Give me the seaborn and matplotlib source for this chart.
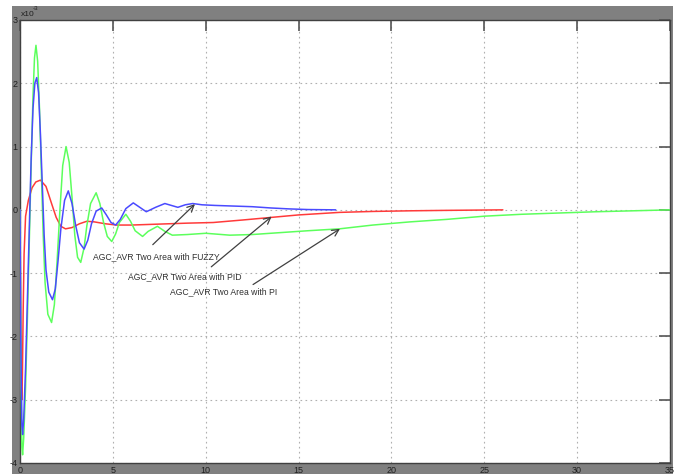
import matplotlib
matplotlib.use("Agg")
import matplotlib.pyplot as plt
from matplotlib.patches import Rectangle
import seaborn as sns
import pandas as pd

# Frequency deviation response (units of 1e-3) for the three controllers
t_pi = [0, 0.04, 0.1, 0.14, 0.2, 0.3, 0.4, 0.5, 0.6, 0.7, 0.78, 0.86, 0.95, 1.05,
        1.15, 1.25, 1.35, 1.5, 1.7, 1.85, 2.0, 2.15, 2.3, 2.48, 2.65, 2.8, 2.95,
        3.1, 3.27, 3.45, 3.6, 3.8, 4.1, 4.3, 4.5, 4.7, 4.94, 5.15, 5.35, 5.7,
        5.95, 6.2, 6.6, 6.9, 7.4, 7.8, 8.2, 9.0, 10, 11.3, 12.5, 14, 15.5, 17.2,
        19, 21, 23, 25, 27, 29, 31, 33, 35]
y_pi = [0, -2.0, -3.75, -3.87, -3.6, -2.8, -1.7, -0.5, 0.7, 1.8, 2.4, 2.6, 2.35, 1.6,
        0.6, -0.4, -1.15, -1.65, -1.78, -1.5, -0.8, 0.0, 0.7, 1.0, 0.75, 0.2, -0.4,
        -0.75, -0.83, -0.6, -0.25, 0.1, 0.27, 0.1, -0.2, -0.42, -0.5, -0.38, -0.2, -0.07,
        -0.18, -0.33, -0.42, -0.34, -0.26, -0.34, -0.4, -0.39, -0.37, -0.4, -0.39, -0.36, -0.33, -0.3,
        -0.24, -0.19, -0.15, -0.1, -0.07, -0.05, -0.03, -0.015, 0.0]

t_fuzzy = [0, 0.04, 0.1, 0.14, 0.2, 0.3, 0.4, 0.5, 0.6, 0.7, 0.8, 0.9, 1.0, 1.1,
           1.2, 1.3, 1.4, 1.55, 1.75, 1.9, 2.05, 2.2, 2.4, 2.6, 2.8, 3.0, 3.2,
           3.45, 3.65, 3.85, 4.1, 4.4, 4.65, 4.9, 5.15, 5.4, 5.7, 6.1, 6.45, 6.8,
           7.3, 7.8, 8.15, 8.5, 8.9, 9.3, 9.8, 10.5, 11.5, 12.5, 13.5, 14.5, 15.5, 17]
y_fuzzy = [0, -2.0, -3.4, -3.55, -3.3, -2.5, -1.4, -0.3, 0.8, 1.6, 2.0, 2.09, 1.85, 1.2,
           0.4, -0.4, -0.95, -1.3, -1.42, -1.25, -0.8, -0.3, 0.15, 0.3, 0.1, -0.25, -0.52,
           -0.62, -0.48, -0.22, -0.02, 0.03, -0.08, -0.2, -0.24, -0.15, 0.02, 0.11, 0.04, -0.03,
           0.04, 0.1, 0.07, 0.04, 0.08, 0.1, 0.08, 0.07, 0.06, 0.05, 0.03, 0.015, 0.005, 0.0]

t_pid = [0, 0.03, 0.07, 0.1, 0.13, 0.17, 0.22, 0.3, 0.45, 0.65, 0.85, 1.1, 1.4, 1.7,
         1.95, 2.2, 2.45, 2.8, 3.2, 3.6, 4.0, 4.6, 5.2, 6.0, 7.0, 8.0, 9.0, 10.4,
         12, 13.5, 15, 17.2, 19, 21, 23, 26]
y_pid = [0, -1.5, -2.8, -3.0, -2.6, -1.6, -0.7, -0.1, 0.15, 0.35, 0.44, 0.47, 0.37, 0.1,
         -0.12, -0.26, -0.3, -0.28, -0.22, -0.18, -0.19, -0.22, -0.24, -0.24, -0.23, -0.22, -0.21, -0.2,
         -0.16, -0.12, -0.08, -0.04, -0.025, -0.015, -0.008, 0.0]

x_ticks = [0, 5, 10, 15, 20, 25, 30, 35]
y_ticks = [-4, -3, -2, -1, 0, 1, 2, 3]

labels = ["AGC_AVR Two Area with FUZZY", "AGC_AVR Two Area with PID", "AGC_AVR Two Area with PI"]

sns.set_theme(style="white")
plt.rcParams["font.family"] = ["Liberation Sans", "DejaVu Sans"]

fig = plt.figure(figsize=(6.82, 4.74), dpi=100)
fig.patch.set_facecolor("white")
# grey frame behind the axes
fig.patches.append(Rectangle((12 / 682, 0), (673 - 12) / 682, (474 - 6) / 474,
                             transform=fig.transFigure, facecolor="#808080",
                             edgecolor="none", zorder=-5))
ax = fig.add_axes([20 / 682, 11 / 474, 650 / 682, 443 / 474])
ax.set_zorder(1)
ax.set_facecolor("white")

df_pi = pd.DataFrame({"t": t_pi, "y": y_pi})
df_fz = pd.DataFrame({"t": t_fuzzy, "y": y_fuzzy})
df_pid = pd.DataFrame({"t": t_pid, "y": y_pid})

sns.lineplot(data=df_pid, x="t", y="y", ax=ax, color="#ff3a3a", lw=1.1, sort=False, zorder=3)
sns.lineplot(data=df_pi, x="t", y="y", ax=ax, color="#5cff5c", lw=1.1, sort=False, zorder=4)
sns.lineplot(data=df_fz, x="t", y="y", ax=ax, color="#4a4aff", lw=1.1, sort=False, zorder=5)

ax.set_xlim(0, 35)
ax.set_ylim(-4, 3)
ax.set_xticks(x_ticks)
ax.set_yticks(y_ticks)
ax.set_xticklabels([str(v) for v in x_ticks])
ax.set_yticklabels([str(v) for v in y_ticks])
ax.set_xlabel("")
ax.set_ylabel("")
ax.grid(True, color="#b0b0b0", linestyle=(0, (1.5, 3)), linewidth=0.8)
ax.tick_params(axis="both", direction="in", length=8, width=1.2, color="#555555",
               labelsize=6.5, labelcolor="#202020", pad=2, top=True, right=True)
for s in ax.spines.values():
    s.set_color("#404040")
    s.set_linewidth(1.0)

# exponent marker
fig.text(21 / 682, 1 - 14 / 474, "x10", fontsize=6, color="#202020", va="center", ha="left")
fig.text(33 / 682, 1 - 8 / 474, "-3", fontsize=4.5, color="#202020", va="center", ha="left")

# callouts
ann = [(labels[0], (3.93, -0.74), (7.15, -0.55), (9.42, 0.09)),
       (labels[1], (5.83, -1.05), (10.3, -0.9), (13.55, -0.105)),
       (labels[2], (8.08, -1.3), (12.55, -1.18), (17.23, -0.3))]
for txt, tpos, tail, head in ann:
    ax.text(tpos[0], tpos[1], txt, fontsize=6.2, color="#303030", va="center", ha="left", zorder=6)
    ax.annotate("", xy=head, xytext=tail,
                arrowprops=dict(arrowstyle="->", color="#404040", lw=0.9,
                                shrinkA=0, shrinkB=0), zorder=6)

fig.savefig("out.png", dpi=100)
